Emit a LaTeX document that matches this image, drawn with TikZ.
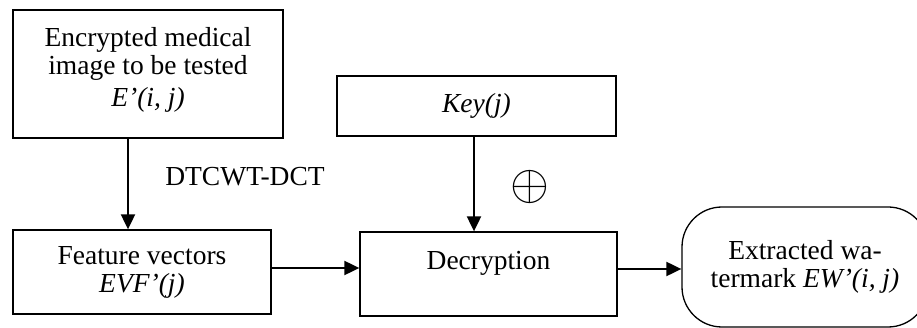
\documentclass[tikz,border=0pt]{standalone}
\usepackage{amsmath}
\usepackage{amssymb}
\usepackage{fontspec}
\setmainfont{Liberation Serif}
\usepackage{tikz}
\usetikzlibrary{arrows.meta}

\tikzset{
	blk/.style={draw, line width=1.3pt, align=center, font=\fontsize{27.5}{28}\selectfont},
	arr/.style={line width=2pt, -{Triangle[length=15pt,width=14pt]}},
	lbl/.style={font=\fontsize{27.5}{28}\selectfont}
}

\begin{document}
\begin{tikzpicture}[x=1pt,y=-1pt]
	\useasboundingbox (0,0) rectangle (917,328);
	% blocks
	\node[blk, minimum width=270pt, minimum height=128pt] (img) at (148,74)
		{Encrypted medical\\image to be tested\\[4pt]\textit{E'(i, j)}\\[-13pt]\mbox{}};
	\node[blk, minimum width=258pt, minimum height=84pt] (feat) at (142,272)
		{Feature vectors\\\textit{EVF'(j)}};
	\node[blk, minimum width=279pt, minimum height=60pt] (key) at (476.5,106) {\textit{Key(j)}};
	\node[blk, minimum width=257pt, minimum height=84pt] (dec) at (488.5,274) {Decryption\\\mbox{}};
	\node[blk, rounded corners=40pt, minimum width=246pt, minimum height=120pt] (wm) at (805,267)
		{Extracted wa-\\termark \textit{EW'(i, j)}};
	% labels
	\node[lbl] (dt) at (245,177) {DTCWT-DCT};
	\node (xr) at (530,187) {\scalebox{5}{$\oplus$}};
	% arrows
	\draw[arr] ([xshift=-20pt]img.south) -- ([xshift=-20pt]img.south |- feat.north);
	\draw[arr] ([xshift=-2.5pt]key.south) -- ([xshift=-2.5pt]key.south |- dec.north);
	\draw[arr] ([yshift=4pt]feat.east) -- ([yshift=4pt]feat.east -| dec.west);
	\draw[arr] ([yshift=5pt]dec.east) -- ([yshift=5pt]dec.east -| wm.west);
\end{tikzpicture}
\end{document}
